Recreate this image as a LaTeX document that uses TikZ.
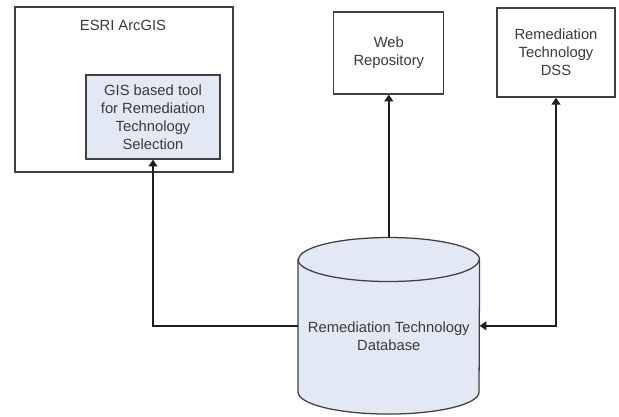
\documentclass[tikz,border=0pt]{standalone}
\usepackage{fontspec}
\setmainfont{Liberation Sans}
\usepackage{tikz}
\usetikzlibrary{arrows.meta,calc,positioning}
\definecolor{Ink}{HTML}{1E1E1E}
\definecolor{Frame}{HTML}{404040}
\definecolor{Label}{HTML}{3A3A3A}
\definecolor{Pale}{HTML}{E3E8F5}
\tikzset{
  linkarrow/.style={-{Triangle[length=1.7mm,width=2.2mm]},line width=1.3pt,draw=Ink},
  boxbase/.style={rectangle,draw=Frame,line width=0.9pt,fill=white,align=center,
    text=Label,font=\fontsize{10.5}{12.8}\selectfont,inner sep=1mm},
  toolbox/.style={boxbase,fill=Pale},
  storearea/.style={rectangle,draw=none,minimum width=4.525cm,minimum height=4.4cm},
  storeline/.style={draw=Frame,line width=0.9pt},
  plaintext/.style={align=center,text=Label,font=\fontsize{10.5}{12.8}\selectfont},
}

\begin{document}
\begin{tikzpicture}[x=1cm,y=1cm]
    \useasboundingbox (0,0) rectangle (15.475,10.425);

    \node[boxbase,minimum width=5.45cm,minimum height=4.125cm] (arcgis) at (3.1,8.19) {};
    \node[plaintext] (arcgistitle) at (3.075,9.8) {ESRI ArcGIS};
    \node[toolbox,minimum width=3.35cm,minimum height=2.1cm] (gistool) at (3.825,7.5)
      {GIS based tool\\for Remediation\\Technology\\Selection};

    \node[boxbase,minimum width=2.75cm,minimum height=2.05cm] (webrepo) at (9.72,9.1) {Web\\Repository};
    \node[boxbase,minimum width=2.95cm,minimum height=2.225cm] (dss) at (13.9,9.11) {Remediation\\Technology\\DSS};

    \node[storearea] (rtdb) at (9.72,2.28) {};
    \filldraw[storeline,fill=Pale] ($(rtdb.north west)+(0,-0.55)$) -- ($(rtdb.south west)+(0,0.55)$)
      arc[start angle=180,end angle=360,x radius=2.2625cm,y radius=0.55cm]
      -- ($(rtdb.north east)+(0,-0.55)$)
      arc[start angle=0,end angle=180,x radius=2.2625cm,y radius=0.55cm] -- cycle;
    \draw[storeline] ($(rtdb.north west)+(0,-0.55)$)
      arc[start angle=180,end angle=360,x radius=2.2625cm,y radius=0.55cm];
    \node[plaintext] (rtdblabel) at ($(rtdb.center)+(0,-0.25)$) {Remediation Technology\\Database};

    \draw[linkarrow] (rtdb.west) -| (gistool.south);
    \draw[linkarrow] (rtdb.north) -- (webrepo.south);
    \draw[linkarrow,{Triangle[length=1.7mm,width=2.2mm]}-{Triangle[length=1.7mm,width=2.2mm]}] (dss.south) |- (rtdb.east);
  \end{tikzpicture}
\end{document}
